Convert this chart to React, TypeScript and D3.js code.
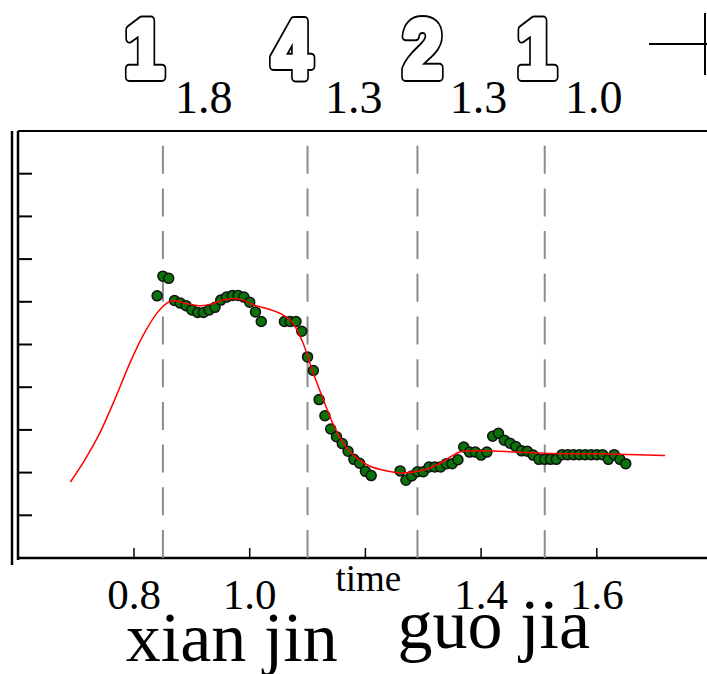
import React from "react";
import * as d3 from "d3";

// ---- data ----
const xTicks = [0.8, 1.0, 1.2, 1.4, 1.6];
const xTickLabels = ["0.8", "1.0", "time", "1.4", "1.6"];
const yTicks = [1, 2, 3, 4, 5, 6, 7, 8, 9];
const boundaries = [0.85, 1.1, 1.29, 1.51];
const toneDigits = ["1", "4", "2", "1"];
const toneValues = ["1.8", "1.3", "1.3", "1.0"];
const toneTimes = [0.784, 1.039, 1.265, 1.462];
const subTimes = [0.871, 1.13, 1.346, 1.545];
const words = ["xian jin", "guo jia"];
const wordTimes = [0.969, 1.422];

const pitchPoints: [number, number][] = [
  [0.84, 6.14], [0.85, 6.6], [0.86, 6.55], [0.87, 6.03], [0.88, 5.97], [0.89, 5.91], [0.9, 5.81],
  [0.91, 5.75], [0.92, 5.75], [0.93, 5.81], [0.94, 5.87], [0.95, 6.04], [0.96, 6.11], [0.97, 6.15],
  [0.98, 6.15], [0.99, 6.11], [1.0, 5.99], [1.01, 5.76], [1.02, 5.54],
  [1.06, 5.54], [1.07, 5.54], [1.08, 5.54], [1.09, 5.31], [1.1, 4.71], [1.11, 4.39], [1.12, 3.71],
  [1.13, 3.33], [1.14, 3.02], [1.15, 2.84], [1.16, 2.68], [1.17, 2.5], [1.18, 2.31], [1.19, 2.22],
  [1.2, 2.03], [1.21, 1.93],
  [1.26, 2.04], [1.27, 1.82], [1.28, 1.92], [1.29, 2.02], [1.3, 2.02], [1.31, 2.13], [1.32, 2.13],
  [1.33, 2.13], [1.34, 2.21], [1.35, 2.21], [1.36, 2.3], [1.37, 2.6], [1.38, 2.48], [1.39, 2.48],
  [1.4, 2.41], [1.41, 2.48], [1.42, 2.85], [1.43, 2.92], [1.44, 2.76], [1.45, 2.69], [1.46, 2.61],
  [1.47, 2.51], [1.48, 2.5], [1.49, 2.41], [1.5, 2.31], [1.51, 2.31], [1.52, 2.31], [1.53, 2.31],
  [1.54, 2.42], [1.55, 2.42], [1.56, 2.42], [1.57, 2.42], [1.58, 2.42], [1.59, 2.42], [1.6, 2.42],
  [1.61, 2.42], [1.62, 2.31], [1.63, 2.42], [1.64, 2.31], [1.65, 2.21],
];

const fitCurve: [number, number][] = [
  [0.69, 1.78], [0.715, 2.3], [0.741, 2.93], [0.767, 3.72], [0.793, 4.57], [0.816, 5.22],
  [0.84, 5.74], [0.857, 5.97], [0.868, 6.03], [0.891, 5.96], [0.914, 5.91], [0.931, 5.94],
  [0.954, 6.04], [0.972, 6.08], [0.989, 6.04], [1.006, 5.93], [1.035, 5.82], [1.058, 5.69],
  [1.075, 5.49], [1.092, 5.04], [1.109, 4.36], [1.127, 3.72], [1.144, 3.14], [1.165, 2.62],
  [1.185, 2.34], [1.208, 2.15], [1.234, 2.05], [1.265, 1.99], [1.3, 2.06], [1.329, 2.22],
  [1.35, 2.39], [1.364, 2.49], [1.404, 2.51], [1.462, 2.48], [1.519, 2.45], [1.605, 2.44],
  [1.69, 2.41], [1.718, 2.4],
];

export default function App() {
  const W = 707, H = 674;
  const x = d3.scaleLinear().domain([0.8, 1.6]).range([134, 596.8]);
  const y = d3.scaleLinear().domain([0, 10]).range([558, 131]);
  const line = d3
    .line<[number, number]>()
    .x((d) => x(d[0]))
    .y((d) => y(d[1]))
    .curve(d3.curveCatmullRom.alpha(0.5));
  const top = y(10), bottom = y(0);
  const left = 18;
  const serif = "'Liberation Serif', 'Times New Roman', serif";
  const sans = "'Liberation Sans', Arial, sans-serif";

  return (
    <svg
      width={W}
      height={H}
      style={{ position: "absolute", left: 0, top: 0, background: "#fff" }}
      xmlns="http://www.w3.org/2000/svg"
    >
      <rect x={0} y={0} width={W} height={H} fill="#fff" />
      {/* tone labels */}
      {toneDigits.map((d, i) => (
        <g key={"tone" + i}>
          <g transform={`translate(${x(toneTimes[i])},77) scale(0.86,1)`}>
            <text
              x={0}
              y={0}
              fontFamily={sans}
              fontWeight={700}
              fontSize={82}
              fill="#000"
              stroke="#000"
              strokeWidth={10}
              strokeLinejoin="round"
            >
              {d}
            </text>
            <text
              x={0}
              y={0}
              fontFamily={sans}
              fontWeight={700}
              fontSize={82}
              fill="#fff"
              stroke="#fff"
              strokeWidth={6}
              strokeLinejoin="round"
            >
              {d}
            </text>
          </g>
          <text x={x(subTimes[i])} y={113} fontFamily={serif} fontSize={46} fill="#000">
            {toneValues[i]}
          </text>
        </g>
      ))}
      <line x1={649} x2={707} y1={44} y2={44} stroke="#000" strokeWidth={2} />
      <line x1={705} x2={705} y1={13} y2={75} stroke="#000" strokeWidth={2} />

      {/* frame */}
      <line x1={left} x2={W} y1={top} y2={top} stroke="#000" strokeWidth={2} />
      <line x1={12} x2={12} y1={top} y2={565} stroke="#000" strokeWidth={2.5} />
      <line x1={left} x2={left} y1={top} y2={560} stroke="#000" strokeWidth={2.5} />
      <line x1={left} x2={W} y1={bottom} y2={bottom} stroke="#000" strokeWidth={2.5} />
      {yTicks.map((t) => (
        <line key={"yt" + t} x1={left} x2={32} y1={y(t)} y2={y(t)} stroke="#000" strokeWidth={2} />
      ))}
      {xTicks.map((t) => (
        <line key={"xt" + t} x1={x(t)} x2={x(t)} y1={bottom - 10} y2={bottom} stroke="#000" strokeWidth={1.5} />
      ))}
      {/* boundaries */}
      {boundaries.map((b) => (
        <line
          key={"b" + b}
          x1={x(b)}
          x2={x(b)}
          y1={bottom}
          y2={top}
          stroke="#8c8c8c"
          strokeWidth={2}
          strokeDasharray="28 14.7"
        />
      ))}
      {/* points */}
      {pitchPoints.map((p, i) => (
        <circle key={"p" + i} cx={x(p[0])} cy={y(p[1])} r={5} fill="#0b730b" stroke="#111" strokeWidth={1.5} />
      ))}
      <path d={line(fitCurve) || ""} fill="none" stroke="#ff0000" strokeWidth={1.5} />

      {/* x tick labels */}
      {xTicks.map((t, i) =>
        xTickLabels[i] === "time" ? (
          <text key={"xl" + t} x={x(t) + 3} y={591} textAnchor="middle" fontFamily={serif} fontSize={37} fill="#000">
            {xTickLabels[i]}
          </text>
        ) : (
          <text key={"xl" + t} x={x(t)} y={609} textAnchor="middle" fontFamily={serif} fontSize={43} fill="#000">
            {xTickLabels[i]}
          </text>
        )
      )}
      {words.map((w, i) => (
        <text
          key={"w" + i}
          x={x(wordTimes[i])}
          y={i === 0 ? 661 : 648}
          textAnchor="middle"
          fontFamily={serif}
          fontSize={70}
          fill="#000"
        >
          {w}
        </text>
      ))}
    </svg>
  );
}
